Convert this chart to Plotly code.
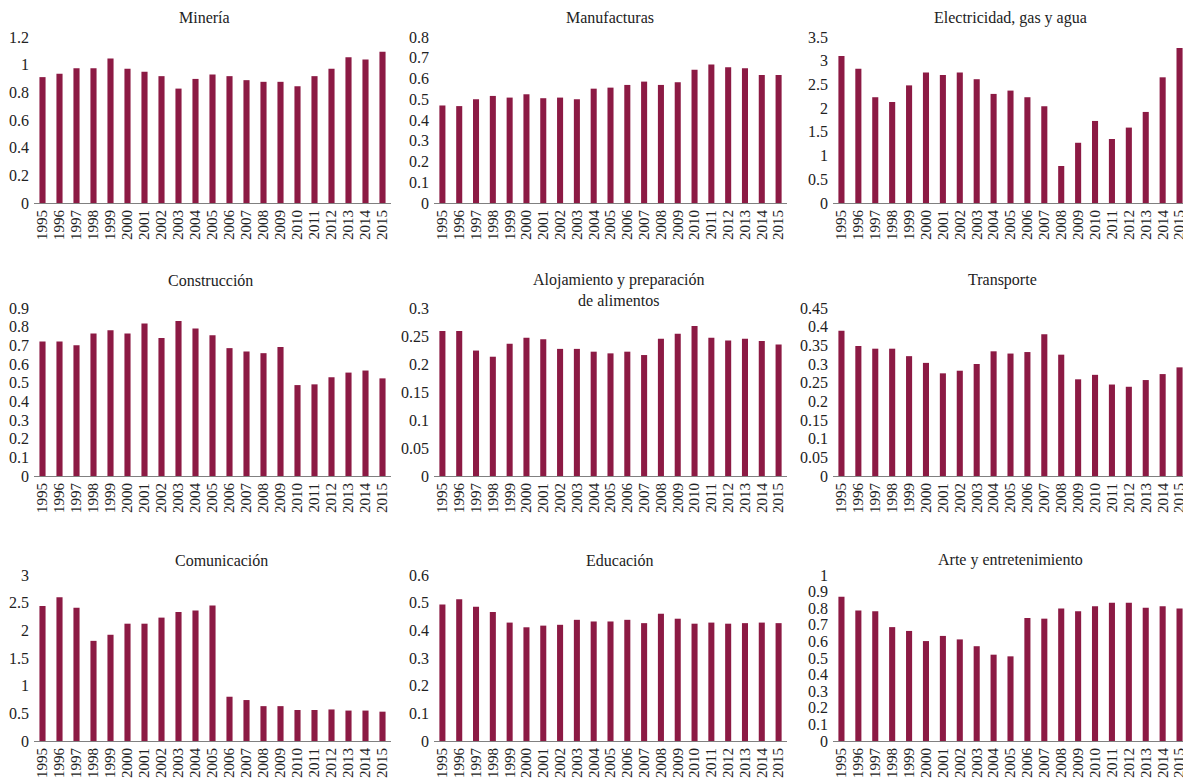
import plotly.graph_objects as go

years = [str(y) for y in range(1995, 2016)]

titles = [
    "Minería", "Manufacturas", "Electricidad, gas y agua",
    "Construcción", "Alojamiento y preparación<br>de alimentos", "Transporte",
    "Comunicación", "Educación", "Arte y entretenimiento",
]

mineria = [0.91, 0.935, 0.975, 0.975, 1.045, 0.97, 0.948, 0.917, 0.827, 0.897, 0.929,
           0.917, 0.888, 0.876, 0.876, 0.844, 0.917, 0.97, 1.053, 1.038, 1.094]
manufacturas = [0.47, 0.467, 0.5, 0.516, 0.508, 0.524, 0.505, 0.508, 0.5, 0.551, 0.556,
                0.569, 0.585, 0.569, 0.582, 0.642, 0.667, 0.654, 0.65, 0.617, 0.617]
electricidad = [3.10, 2.83, 2.23, 2.13, 2.48, 2.75, 2.70, 2.75, 2.61, 2.30, 2.37,
                2.23, 2.04, 0.78, 1.27, 1.73, 1.35, 1.59, 1.92, 2.65, 3.27]
construccion = [0.721, 0.721, 0.70, 0.763, 0.781, 0.763, 0.817, 0.739, 0.831, 0.790, 0.754,
                0.685, 0.667, 0.658, 0.691, 0.487, 0.491, 0.529, 0.554, 0.565, 0.523]
alojamiento = [0.259, 0.259, 0.224, 0.213, 0.236, 0.247, 0.244, 0.227, 0.227, 0.222, 0.219,
               0.222, 0.216, 0.245, 0.254, 0.268, 0.247, 0.242, 0.245, 0.241, 0.235]
transporte = [0.389, 0.348, 0.341, 0.341, 0.321, 0.303, 0.275, 0.282, 0.300, 0.334, 0.328,
              0.332, 0.380, 0.325, 0.259, 0.271, 0.245, 0.239, 0.257, 0.273, 0.291]
comunicacion = [2.44, 2.60, 2.41, 1.81, 1.92, 2.12, 2.12, 2.23, 2.33, 2.36, 2.45,
                0.80, 0.74, 0.63, 0.63, 0.56, 0.56, 0.57, 0.55, 0.55, 0.53]
educacion = [0.493, 0.512, 0.485, 0.466, 0.428, 0.411, 0.417, 0.420, 0.438, 0.432, 0.432,
             0.438, 0.426, 0.460, 0.442, 0.424, 0.428, 0.424, 0.426, 0.428, 0.426]
arte = [0.869, 0.786, 0.782, 0.686, 0.663, 0.602, 0.633, 0.612, 0.571, 0.520, 0.510,
        0.741, 0.737, 0.798, 0.782, 0.812, 0.833, 0.833, 0.802, 0.812, 0.798]

series = [mineria, manufacturas, electricidad, construccion, alojamiento, transporte,
          comunicacion, educacion, arte]
y_max = [1.2, 0.8, 3.5, 0.9, 0.3, 0.45, 3, 0.6, 1]
y_step = [0.2, 0.1, 0.5, 0.1, 0.05, 0.05, 0.5, 0.1, 0.1]

OFF = 8  # page body margin
W, H = 1191 - OFF, 781 - OFF
BAR = "#8C1A44"
FONT = "Liberation Serif"

# target positions in page pixels
col_px = [(34, 391), (434, 787), (833, 1188)]
row_px = [(37, 203), (308, 476), (575, 741)]
title_x = [204, 610, 1010, 210, 619, 1003, 221, 620, 1010]
title_y = [18, 18, 18, 280, 290, 280, 560, 560, 560]


def fx(p):
    return (p - OFF) / W


def fy(p):
    return 1 - (p - OFF) / H


fig = go.Figure()
layout = dict(
    template="none",
    width=W, height=H, margin=dict(l=0, r=0, t=0, b=0, autoexpand=False),
    paper_bgcolor="white", plot_bgcolor="white",
    showlegend=False, bargap=0.64,
    font=dict(family=FONT, size=14, color="#222222"),
)
annotations = []
for i, vals in enumerate(series):
    r, c = divmod(i, 3)
    sfx = "" if i == 0 else str(i + 1)
    fig.add_trace(go.Bar(x=years, y=vals, marker=dict(color=BAR, line=dict(width=0)),
                         xaxis="x" + sfx, yaxis="y" + sfx))
    x0, x1 = col_px[c]
    y0, y1 = row_px[r]
    layout["xaxis" + sfx] = dict(
        domain=[fx(x0), fx(x1)], anchor="y" + sfx, type="category",
        tickmode="linear", tick0=0, dtick=1, automargin=False,
        tickangle=-90, showline=True, linecolor="#808080", linewidth=1,
        ticks="", showgrid=False, zeroline=False,
        tickfont=dict(family=FONT, size=15, color="#222222"),
    )
    layout["yaxis" + sfx] = dict(
        domain=[fy(y1), fy(y0)], anchor="x" + sfx, automargin=False,
        range=[0, y_max[i]], dtick=y_step[i], tick0=0, ticklabelstandoff=4,
        showline=False, showgrid=False, zeroline=False, ticks="",
        tickfont=dict(family=FONT, size=16, color="#222222"),
    )
    annotations.append(dict(
        text=titles[i], xref="paper", yref="paper",
        x=fx(title_x[i]), y=fy(title_y[i]), xanchor="center", yanchor="middle",
        showarrow=False, font=dict(family=FONT, size=16, color="#222222"),
    ))
layout["annotations"] = annotations
fig.update_layout(**layout)
fig.write_html("out.html")
